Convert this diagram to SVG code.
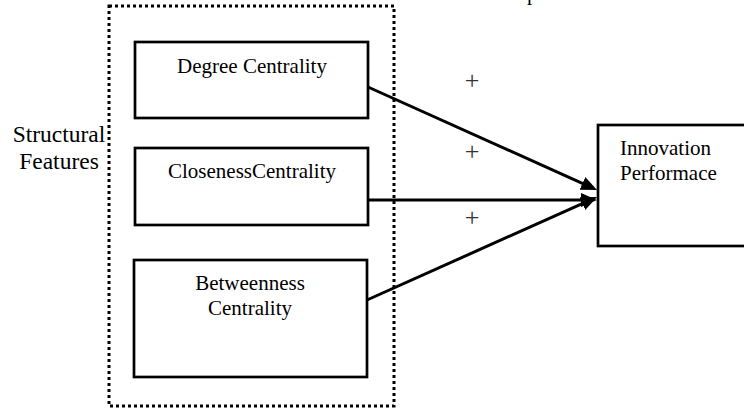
<svg xmlns="http://www.w3.org/2000/svg" width="744" height="408" viewBox="0 0 744 408">
<style>
text{font-family:"Liberation Serif","Times New Roman",serif;font-size:21px;fill:#000}
.plus{font-size:26px;fill:#333}
.box{fill:#fff;stroke:#000;stroke-width:2.7}
.conn{fill:none;stroke:#000;stroke-width:3}
.group{fill:none;stroke:#000;stroke-width:3;stroke-dasharray:3 3}
</style>
<defs>
<marker id="arr" markerUnits="userSpaceOnUse" markerWidth="18" markerHeight="14" refX="6" refY="7" orient="auto">
<path d="M0,0 L16,7 L0,14 z" fill="#000"/>
</marker>
</defs>
<rect width="744" height="408" fill="#fff"/>
<text x="527" y="0">p</text>
<g id="structural-features">
<rect class="group" x="109" y="6" width="285" height="400"/>
<text x="59" y="142" text-anchor="middle" style="font-size:23.5px">Structural</text>
<text x="59" y="169" text-anchor="middle" style="font-size:23.5px">Features</text>
</g>
<g id="degree">
<rect class="box" x="135" y="42" width="233" height="76"/>
<text x="252" y="73" text-anchor="middle">Degree Centrality</text>
</g>
<g id="closeness">
<rect class="box" x="135" y="148" width="233" height="77"/>
<text x="252" y="178" text-anchor="middle">ClosenessCentrality</text>
</g>
<g id="betweenness">
<rect class="box" x="134" y="260" width="233" height="117"/>
<text x="250" y="290" text-anchor="middle">Betweenness</text>
<text x="250" y="315" text-anchor="middle">Centrality</text>
</g>
<g id="innovation">
<rect class="box" x="598" y="125" width="170" height="121"/>
<text x="620" y="155">Innovation</text>
<text x="620" y="180">Performace</text>
</g>
<g id="connectors">
<path class="conn" d="M368,87 L587.9,185.9" marker-end="url(#arr)"/>
<path class="conn" d="M368,200 L587,200" marker-end="url(#arr)"/>
<path class="conn" d="M367,300 L587.9,201.1" marker-end="url(#arr)"/>
<text class="plus" x="472" y="89" text-anchor="middle">+</text>
<text class="plus" x="472" y="160" text-anchor="middle">+</text>
<text class="plus" x="472" y="226" text-anchor="middle">+</text>
</g>
</svg>
